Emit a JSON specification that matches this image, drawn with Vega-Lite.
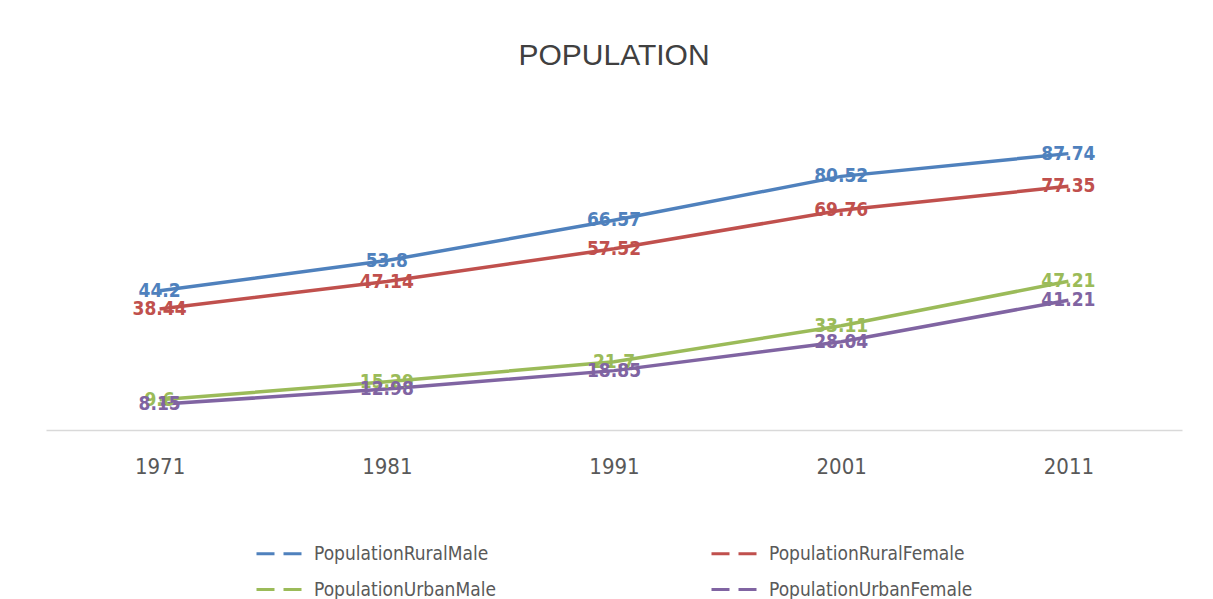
{
  "$schema": "https://vega.github.io/schema/vega-lite/v6.json",
  "width": 1136,
  "height": 315,
  "autosize": {"type": "none"},
  "padding": {"left": 46, "top": 115, "right": 31, "bottom": 169},
  "background": "white",
  "title": {"text": "POPULATION", "fontSize": 30, "font": "Liberation Sans, sans-serif", "fontWeight": "normal", "color": "#404040", "anchor": "middle", "offset": 44},
  "config": {"view": {"stroke": null}},
  "data": {"values": [
    {"year": "1971", "series": "PopulationRuralMale", "value": 44.2},
    {"year": "1981", "series": "PopulationRuralMale", "value": 53.8},
    {"year": "1991", "series": "PopulationRuralMale", "value": 66.57},
    {"year": "2001", "series": "PopulationRuralMale", "value": 80.52},
    {"year": "2011", "series": "PopulationRuralMale", "value": 87.74},
    {"year": "1971", "series": "PopulationRuralFemale", "value": 38.44},
    {"year": "1981", "series": "PopulationRuralFemale", "value": 47.14},
    {"year": "1991", "series": "PopulationRuralFemale", "value": 57.52},
    {"year": "2001", "series": "PopulationRuralFemale", "value": 69.76},
    {"year": "2011", "series": "PopulationRuralFemale", "value": 77.35},
    {"year": "1971", "series": "PopulationUrbanMale", "value": 9.6},
    {"year": "1981", "series": "PopulationUrbanMale", "value": 15.29},
    {"year": "1991", "series": "PopulationUrbanMale", "value": 21.7},
    {"year": "2001", "series": "PopulationUrbanMale", "value": 33.11},
    {"year": "2011", "series": "PopulationUrbanMale", "value": 47.21},
    {"year": "1971", "series": "PopulationUrbanFemale", "value": 8.15},
    {"year": "1981", "series": "PopulationUrbanFemale", "value": 12.98},
    {"year": "1991", "series": "PopulationUrbanFemale", "value": 18.85},
    {"year": "2001", "series": "PopulationUrbanFemale", "value": 28.04},
    {"year": "2011", "series": "PopulationUrbanFemale", "value": 41.21}
  ]},
  "encoding": {
    "x": {"field": "year", "type": "ordinal", "scale": {"type": "point", "padding": 0.5},
      "axis": {"title": null, "labelAngle": 0, "ticks": false, "labelFontSize": 22, "labelColor": "#595959", "labelFont": "Liberation Sans Narrow, DejaVu Sans Condensed, sans-serif", "labelPadding": 26, "domainColor": "#d9d9d9", "domainWidth": 1.5, "grid": false}},
    "y": {"field": "value", "type": "quantitative", "scale": {"domain": [0, 100]}, "axis": null},
    "color": {"field": "series", "type": "nominal",
      "scale": {"domain": ["PopulationRuralMale", "PopulationRuralFemale", "PopulationUrbanMale", "PopulationUrbanFemale"], "range": ["#4f81bd", "#c0504d", "#9bbb59", "#8064a2"]}}
  },
  "layer": [
    {"mark": {"type": "line", "strokeWidth": 3.5},
      "encoding": {"color": {"field": "series", "type": "nominal",
        "legend": {"orient": "none", "legendX": 209, "legendY": 413, "columns": 2, "direction": "horizontal", "title": null, "symbolType": "stroke", "symbolStrokeWidth": 3, "symbolDash": [18, 9], "symbolSize": 2304, "labelFontSize": 19, "labelColor": "#595959", "labelFont": "Liberation Sans Narrow, DejaVu Sans Condensed, sans-serif", "labelOffset": 8, "labelLimit": 400, "columnPadding": 187, "rowPadding": 0, "gridAlign": "all"}}}},
    {"mark": {"type": "text", "fontSize": 19, "fontWeight": "bold", "font": "Liberation Sans Narrow, DejaVu Sans Condensed, sans-serif", "baseline": "middle", "align": "center"},
      "encoding": {"text": {"field": "value", "type": "quantitative"}}}
  ]
}
